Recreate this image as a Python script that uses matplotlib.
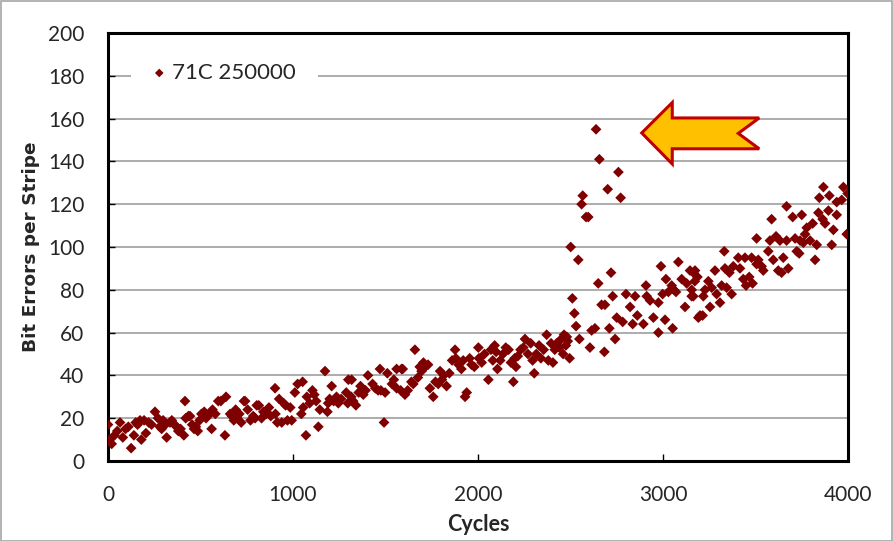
import matplotlib
matplotlib.use("Agg")
import matplotlib.pyplot as plt
from matplotlib.patches import Polygon, Rectangle

# ---- data ----
cycles = [
    0, 10, 20, 35, 50, 65, 80, 95,
    110, 125, 140, 150, 160, 173, 180, 195,
    205, 220, 235, 254, 270, 280, 290, 298,
    310, 317, 335, 345, 360, 370, 380, 392, 416,
    410, 420, 435, 443, 455, 465, 475, 485, 495,
    505, 520, 530, 551, 560, 565, 580, 596,
    610, 632, 638, 660, 670, 680, 690, 698,
    710, 720, 735, 741, 755, 770, 785, 795,
    804, 815, 830, 840, 855, 870, 880, 903,
    905, 915, 925, 939, 950, 960, 970, 985, 993,
    1010, 1025, 1052, 1045, 1055, 1070, 1075, 1090,
    1105, 1115, 1125, 1137, 1145, 1173, 1186, 1190, 1198,
    1209, 1220, 1235, 1245, 1260, 1299, 1288, 1296,
    1317, 1315, 1325, 1340, 1355, 1365, 1380, 1392,
    1405, 1470, 1430, 1445, 1460, 1475, 1492, 1498,
    1510, 1560, 1535, 1545, 1560, 1587, 1582, 1593,
    1605, 1620, 1659, 1640, 1675, 1685, 1695, 1650,
    1705, 1715, 1730, 1740, 1758, 1770, 1785, 1795,
    1805, 1815, 1830, 1845, 1860, 1876, 1880, 1895,
    1930, 1939, 1910, 1920, 1955, 1965, 1980, 2002,
    2005, 2020, 2056, 2035, 2070, 2080, 2090, 2098,
    2105, 2120, 2135, 2150, 2165, 2191, 2178, 2198,
    2205, 2215, 2230, 2245, 2254, 2270, 2285, 2295,
    2304, 2315, 2330, 2340, 2355, 2371, 2380, 2395,
    2405, 2415, 2425, 2440, 2450, 2465, 2475, 2485, 2495, 2460, 2480,
    2501, 2510, 2521, 2530, 2542, 2548, 2560, 2566, 2584, 2596,
    2605, 2614, 2632, 2638, 2650, 2656, 2668, 2683, 2686, 2701,
    2710, 2719, 2728, 2741, 2750, 2759, 2771, 2782, 2800,
    2822, 2836, 2849, 2861, 2894, 2908, 2912, 2930, 2948,
    2975, 2975, 2989, 2998, 3011, 3016, 3029, 3047, 3052, 3059,
    3070, 3083, 3101, 3119, 3128, 3146, 3155, 3155, 3164, 3164,
    3172, 3173, 3186, 3191, 3200, 3214, 3218, 3227, 3245, 3254,
    3263, 3281, 3290, 3308, 3317, 3331, 3335, 3344, 3359, 3371,
    3380, 3407, 3416, 3434, 3443, 3449, 3466, 3479, 3484, 3506,
    3506, 3515, 3533, 3542, 3569, 3578, 3587, 3596, 3611, 3623,
    3632, 3641, 3650, 3668, 3668, 3677, 3701, 3714, 3723, 3736,
    3741, 3750, 3759, 3768, 3777, 3795, 3809, 3822, 3831, 3840,
    3845, 3863, 3867, 3876, 3894, 3899, 3912, 3921, 3939, 3939,
    3966, 3975, 3993, 3998,
]
bit_errors = [
    17, 10, 8, 12, 14, 18, 11, 15,
    16, 6, 12, 18, 17, 19, 10, 19,
    13, 18, 17, 23, 20, 16, 15, 19,
    17, 11, 18, 19, 17, 16, 14, 15, 28,
    12, 20, 21, 21, 17, 15, 16, 14, 19,
    22, 23, 20, 22, 15, 24, 22, 28,
    28, 12, 30, 22, 21, 19, 24, 20,
    22, 18, 28, 28, 24, 19, 21, 20,
    26, 26, 20, 23, 22, 25, 21, 34,
    22, 18, 29, 18, 27, 26, 19, 25, 19,
    32, 36, 37, 22, 25, 12, 30, 27,
    33, 31, 28, 16, 24, 42, 23, 27, 29,
    35, 28, 30, 27, 29, 38, 32, 27,
    38, 30, 28, 26, 32, 35, 31, 33,
    40, 43, 36, 34, 33, 33, 18, 32,
    41, 43, 36, 38, 34, 43, 33, 43,
    31, 33, 52, 37, 39, 44, 42, 36,
    46, 44, 45, 34, 30, 37, 36, 42,
    38, 40, 35, 41, 47, 52, 48, 45,
    30, 32, 43, 47, 48, 45, 44, 53,
    48, 46, 38, 50, 52, 47, 54, 51,
    43, 47, 50, 53, 52, 37, 46, 48,
    44, 49, 52, 53, 57, 50, 55, 47,
    41, 50, 54, 48, 52, 59, 47, 55,
    46, 52, 55, 53, 57, 59, 54, 56, 48, 50, 58,
    100, 76, 69, 63, 94, 57, 120, 124, 114, 114,
    53, 61, 62, 155, 83, 141, 73, 51, 73, 127,
    62, 88, 77, 57, 67, 135, 123, 65, 78,
    72, 64, 77, 68, 64, 82, 77, 75, 67,
    60, 74, 91, 78, 66, 85, 79, 82, 62, 80,
    79, 93, 85, 72, 83, 89, 80, 77, 88, 77,
    84, 89, 86, 67, 68, 68, 77, 80, 84, 72,
    81, 89, 78, 74, 82, 98, 90, 81, 88, 78,
    91, 95, 90, 85, 95, 82, 86, 95, 83, 104,
    92, 94, 91, 89, 98, 103, 113, 94, 105, 89,
    103, 88, 95, 119, 103, 90, 114, 104, 98, 97,
    103, 115, 102, 106, 109, 103, 111, 94, 101, 116,
    123, 113, 128, 111, 117, 124, 101, 108, 121, 115,
    122, 128, 106, 125,
]
series_label = "71C 250000"
x_ticks = [0, 1000, 2000, 3000, 4000]
y_ticks = [0, 20, 40, 60, 80, 100, 120, 140, 160, 180, 200]
x_label = "Cycles"
y_label = "Bit Errors per Stripe"

# arrow annotation outline (data coordinates)
arrow_x = [2885, 3050, 3050, 3520, 3407, 3520, 3050, 3050]
arrow_y = [153.3, 167.5, 160.3, 160.3, 153.1, 145.9, 145.9, 138.8]

plt.rcParams['font.family'] = ['Lato', 'DejaVu Sans']

fig = plt.figure(figsize=(8.93, 5.41), dpi=100)
ax = fig.add_axes([108/893, 1-461/541, 740/893, 428/541])

ax.scatter(cycles, bit_errors, marker='D', s=30, color='#7F0000',
           edgecolors='none', zorder=3, label=series_label)

ax.set_xlim(0, 4000)
ax.set_ylim(0, 200)
ax.set_xticks(x_ticks)
ax.set_yticks(y_ticks)
ax.yaxis.grid(True, color='#A6A6A6', linewidth=1.3, zorder=0)
ax.set_axisbelow(True)
for s in ax.spines.values():
    s.set_linewidth(2.2)
    s.set_color('black')
ax.tick_params(axis='both', direction='in', length=5, width=1, color='black',
               labelsize=15, labelcolor='#262626')
ax.tick_params(axis='x', pad=17)
ax.tick_params(axis='y', pad=17)

ax.set_xlabel(x_label, fontsize=15.5, fontweight='bold', color='#262626', labelpad=7)
ax.set_ylabel(y_label, fontsize=13.3, fontweight='bold', color='#262626',
              family=['DejaVu Sans'], labelpad=6)

leg = ax.legend(loc='center left', bbox_to_anchor=(0.031, 0.907), borderaxespad=0,
                frameon=True, fancybox=False, framealpha=1, edgecolor='none',
                facecolor='white', fontsize=16, handlelength=0.55, handletextpad=0.3,
                borderpad=1.0, scatterpoints=1, markerscale=0.8)
for t in leg.get_texts():
    t.set_color('#262626')

arrow = Polygon(list(zip(arrow_x, arrow_y)), closed=True, facecolor='#FFC000',
                edgecolor='#C00000', linewidth=2.2, joinstyle='miter', zorder=5)
ax.add_patch(arrow)

fig.patches.append(Rectangle((0.5/893, 0.5/541), 891.5/893, 539.5/541,
                             transform=fig.transFigure, fill=False,
                             edgecolor='#A6A6A6', linewidth=1.2))

fig.savefig('out.png', dpi=100)
